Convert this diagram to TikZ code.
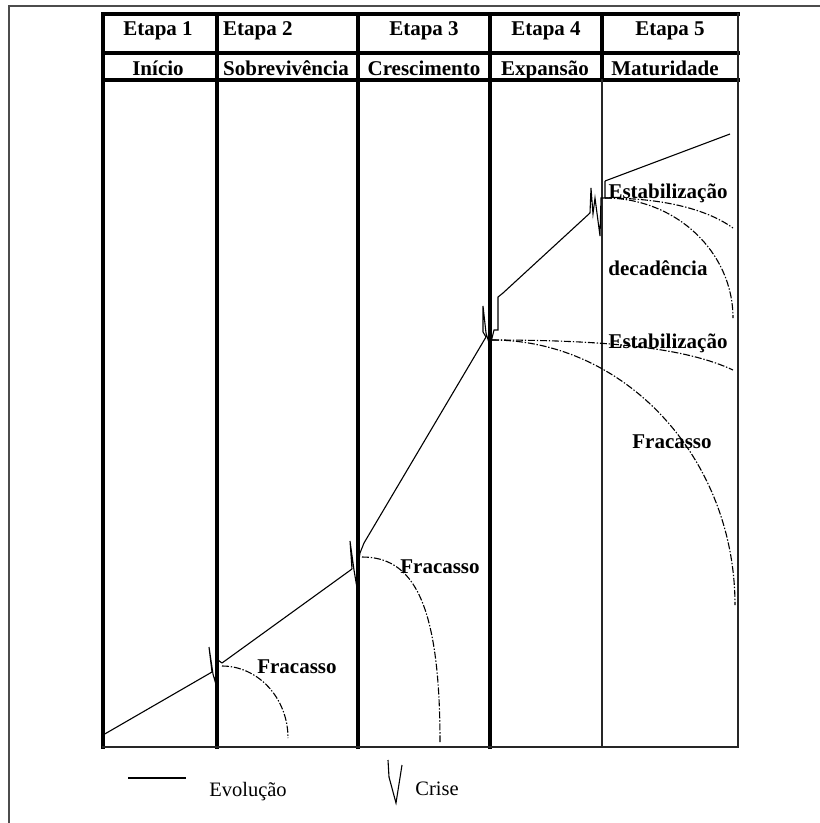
\documentclass[tikz,border=0pt]{standalone}
\usepackage{fontspec}
\setmainfont{Liberation Serif}
\begin{document}
\begin{tikzpicture}[x=1pt,y=-1pt,
  hdr/.style={font=\fontsize{21}{24}\selectfont\bfseries, inner sep=0pt, anchor=base},
  lbl/.style={font=\fontsize{21}{24}\selectfont\bfseries, inner sep=0pt, anchor=base},
  legtxt/.style={font=\fontsize{20.5}{24}\selectfont, inner sep=0pt, anchor=base},
  frame/.style={line width=1.5pt, draw=black!70},
  heavy/.style={line width=3.2pt, line cap=rect},
  light/.style={line width=1.8pt, line cap=rect, draw=black!85},
  evo/.style={line width=1.1pt},
  crise/.style={line width=1.1pt, line join=miter},
  declinio/.style={line width=1.1pt, dash pattern=on 7pt off 1.8pt on 1.4pt off 1.8pt},
]
\useasboundingbox (0,0) rectangle (820,823);

% outer frame (top and left edges)
\draw[frame] (9,823) -- (9,6) -- (820,6);

% table grid
\draw[heavy] (103,14) -- (738,14);
\draw[heavy] (103,53) -- (738,53);
\draw[heavy] (103,80) -- (738,80);
\foreach \x in {103,217,358,490} \draw[heavy] (\x,14) -- (\x,747);
\draw[heavy] (602,14) -- (602,80);
\draw[light] (602,80) -- (602,747);
\draw[light] (738,14) -- (738,747);
\draw[light] (103,747) -- (738,747);

% header rows
\node[hdr] (e1) at (158,35) {Etapa 1};
\node[hdr, anchor=base west] (e2) at (223,35) {Etapa 2};
\node[hdr] (e3) at (424,35) {Etapa 3};
\node[hdr] (e4) at (546,35) {Etapa 4};
\node[hdr] (e5) at (670,35) {Etapa 5};
\node[hdr] (s1) at (158,75) {Início};
\node[hdr] (s2) at (286,75) {Sobrevivência};
\node[hdr] (s3) at (424,75) {Crescimento};
\node[hdr] (s4) at (545,75) {Expansão};
\node[hdr] (s5) at (665,75) {Maturidade};

% points of the evolution path
\coordinate (p0) at (103,735);
\coordinate (a1) at (212,672);
\coordinate (b1) at (222,663);
\coordinate (a2) at (352,569);
\coordinate (b2) at (364,543);
\coordinate (a3) at (486,337);
\coordinate (b3) at (503,293);
\coordinate (a4) at (590,213);
\coordinate (b4) at (605,181);
\coordinate (p5) at (730,134);

% evolution segments
\draw[evo] (p0) -- (a1);
\draw[evo] (b1) -- (a2);
\draw[evo] (b2) -- (a3);
\draw[evo] (b3) -- (a4);
\draw[evo] (b4) -- (p5);

% crisis marks
\draw[crise] (a1) -- (209,647) -- (213,674) -- (215,681) -- (218,660) -- (b1);
\draw[crise] (a2) -- (350,541) -- (354,570) -- (356,582) -- (360,553) -- (b2);
\draw[crise] (a3) -- (483,332) -- (483,306) -- (486,333) -- (490,346) -- (494,330) -- (498,330) -- (498,297) -- (b3);
\draw[crise] (a4) -- (591,188) -- (593,214) -- (595,198) -- (600,236) -- (601,198) -- (605,198) -- (b4);

% branching points of the decline curves
\coordinate (j1) at (222,666);
\coordinate (j2) at (362,557);
\coordinate (j3) at (492,340);
\coordinate (j4) at (605,198);

% decline curves
\draw[declinio] (j1) .. controls (258,666) and (288,698) .. (288,738);
\draw[declinio] (j2) .. controls (412,557) and (440,600) .. (440,742);
\draw[declinio] (j3) .. controls (620,340) and (690,350) .. (733,370);
\draw[declinio] (j3) .. controls (626,340) and (735,459) .. (735,605);
\draw[declinio] (j4) .. controls (660,198) and (705,208) .. (733,228);
\draw[declinio] (j4) .. controls (676,198) and (733,252) .. (733,318);

% curve labels
\node[lbl] (l1) at (668,198) {Estabilização};
\node[lbl] (l2) at (658,275) {decadência};
\node[lbl] (l3) at (668,348) {Estabilização};
\node[lbl] (l4) at (672,448) {Fracasso};
\node[lbl] (l5) at (440,573) {Fracasso};
\node[lbl] (l6) at (297,673) {Fracasso};

% legend
\coordinate (k0) at (128,778);
\coordinate (k1) at (186,778);
\draw[evo] (k0) -- (k1);
\node[legtxt] (kevo) at (248,796) {Evolução};
\draw[crise] (388,760) -- (389,777) -- (396,803) -- (402,765);
\node[legtxt] (kcri) at (437,795) {Crise};
\end{tikzpicture}
\end{document}
